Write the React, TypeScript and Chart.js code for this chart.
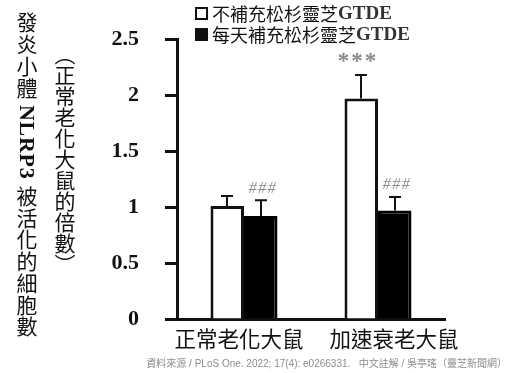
import React, { useEffect, useRef } from "react";
import { Chart, registerables } from "chart.js";
Chart.register(...registerables);

const categories = ["正常老化大鼠", "加速衰老大鼠"];
const seriesNames = ["不補充松杉靈芝", "每天補充松杉靈芝"];
const seriesSuffix = "GTDE";
const noGtde = [1.01, 1.97];
const withGtde = [0.92, 0.97];
const noGtdeErr = [0.09, 0.21];
const withGtdeErr = [0.14, 0.12];
const noGtdeMarks = ["", "***"];
const withGtdeMarks = ["###", "###"];
const yTicks = [0, 0.5, 1, 1.5, 2, 2.5];
const yTitleA = "發炎小體";
const yTitleB = "NLRP3";
const yTitleC = "被活化的細胞數";
const yTitle2 = "（正常老化大鼠的倍數）";
const sourceText = "資料來源 / PLoS One. 2022; 17(4): e0266331.\u00a0\u00a0\u00a0中文註解 / 吳亭瑤（靈芝新聞網）";

// style: horizontal nudge of each category label (px)
const xLabelNudge = [-5, 16];

const errorPlugin = {
  id: "errorBars",
  afterDatasetsDraw(chart: any) {
    const ctx = chart.ctx;
    const y = chart.scales.y;
    const vals = [noGtde, withGtde];
    const errs = [noGtdeErr, withGtdeErr];
    const marks = [noGtdeMarks, withGtdeMarks];
    chart.data.datasets.forEach((_ds: any, di: number) => {
      const meta = chart.getDatasetMeta(di);
      meta.data.forEach((bar: any, i: number) => {
        const x = Math.round(bar.x);
        const top = y.getPixelForValue(vals[di][i]);
        const et = y.getPixelForValue(vals[di][i] + errs[di][i]);
        ctx.save();
        ctx.strokeStyle = "#111";
        ctx.lineWidth = 2;
        ctx.beginPath();
        ctx.moveTo(x, top);
        ctx.lineTo(x, et);
        ctx.moveTo(x - 6, et);
        ctx.lineTo(x + 6, et);
        ctx.stroke();
        const m = marks[di][i];
        if (m) {
          ctx.fillStyle = "#8a8a8a";
          ctx.textAlign = "center";
          ctx.textBaseline = "middle";
          if (m.startsWith("*")) {
            ctx.font = "bold 23px 'Liberation Serif'";
            (ctx as any).letterSpacing = "2px";
            ctx.fillText(m, x - 3, et - 13);
          } else {
            ctx.font = "italic 16px 'Liberation Serif'";
            (ctx as any).letterSpacing = "1.5px";
            ctx.fillText(m, x + 2, et - 12);
          }
        }
        ctx.restore();
      });
    });
  },
  afterDraw(chart: any) {
    const ctx = chart.ctx;
    const xs = chart.scales.x;
    ctx.save();
    ctx.fillStyle = "#111";
    ctx.font = "21.5px 'Noto Sans CJK TC'";
    ctx.textAlign = "center";
    ctx.textBaseline = "middle";
    categories.forEach((c, i) => {
      ctx.fillText(c, xs.getPixelForValue(i) + xLabelNudge[i], xs.top + 20);
    });
    ctx.restore();
  },
};

export default function App() {
  const ref = useRef<HTMLCanvasElement | null>(null);
  useEffect(() => {
    if (!ref.current) return;
    const chart = new Chart(ref.current, {
      type: "bar",
      data: {
        labels: categories,
        datasets: [
          {
            label: seriesNames[0] + seriesSuffix,
            data: noGtde,
            backgroundColor: "#ffffff",
            borderColor: "#111",
            borderWidth: 3,
            categoryPercentage: 0.5,
            barPercentage: 1,
          },
          {
            label: seriesNames[1] + seriesSuffix,
            data: withGtde,
            backgroundColor: "#000",
            borderColor: "#000",
            borderWidth: 3,
            categoryPercentage: 0.5,
            barPercentage: 1,
          },
        ],
      },
      options: {
        responsive: false,
        animation: false,
        layout: { padding: { top: 32, right: 65, bottom: 0, left: 0 } },
        plugins: { legend: { display: false }, tooltip: { enabled: false } },
        scales: {
          x: {
            grid: { display: true, drawOnChartArea: false, drawTicks: false },
            border: { display: true, color: "#111", width: 3 },
            ticks: { display: false },
            afterFit: (s: any) => {
              s.height = 54;
            },
          },
          y: {
            min: 0,
            max: 2.5,
            afterBuildTicks: (s: any) => {
              s.ticks = yTicks.map((v) => ({ value: v }));
            },
            ticks: {
              color: "#111",
              font: { family: "'Liberation Serif'", size: 22, weight: "bold" },
              padding: 26,
              callback: (v: any) => String(v),
            },
            grid: { drawOnChartArea: false, drawTicks: true, tickLength: 12, tickWidth: 3, color: "#111" },
            border: { display: true, color: "#111", width: 3 },
            afterFit: (s: any) => {
              s.width = 177;
            },
          },
        },
      },
      plugins: [errorPlugin],
    } as any);
    return () => chart.destroy();
  }, []);

  const cjk = "'Noto Sans CJK TC', 'Noto Sans CJK SC', sans-serif";
  const serif = "'Liberation Serif', serif";
  const legendRow = (filled: boolean, name: string, top: number) => (
    <div style={{ position: "absolute", left: 195, top, height: 22, display: "flex", alignItems: "center", whiteSpace: "nowrap" }}>
      <div style={{ width: 13, height: 13, boxSizing: "border-box", border: "2.5px solid #111", background: filled ? "#111" : "#fff", marginRight: 4 }} />
      <span style={{ fontFamily: cjk, fontSize: 18, color: "#111", lineHeight: "22px" }}>{name}</span>
      <span style={{ fontFamily: serif, fontWeight: "bold", fontSize: 19, color: "#333", lineHeight: "22px" }}>{seriesSuffix}</span>
    </div>
  );

  return (
    <div style={{ position: "fixed", left: 0, top: 0, width: 510, height: 373, background: "#fff", overflow: "hidden" }}>
      <canvas ref={ref} width={510} height={373} style={{ position: "absolute", left: 0, top: 0 }} />
      {legendRow(false, seriesNames[0], 2)}
      {legendRow(true, seriesNames[1], 23)}
      <div
        style={{
          position: "absolute",
          left: 16,
          top: 12,
          writingMode: "vertical-rl",
          fontFamily: cjk,
          fontSize: 21,
          lineHeight: "22px",
          letterSpacing: 0.7,
          color: "#111",
          whiteSpace: "nowrap",
        }}
      >
        {yTitleA}
        <span style={{ fontFamily: serif, fontWeight: "bold", fontSize: 22 }}> {yTitleB} </span>
        {yTitleC}
      </div>
      <div
        style={{
          position: "absolute",
          left: 54,
          top: 44,
          writingMode: "vertical-rl",
          fontFamily: cjk,
          fontSize: 21,
          lineHeight: "22px",
          color: "#111",
          whiteSpace: "nowrap",
        }}
      >
        {yTitle2}
      </div>
      <div
        style={{
          position: "absolute",
          right: 3,
          top: 356,
          fontFamily: "'Liberation Sans', 'Noto Sans CJK TC', sans-serif",
          fontSize: 10,
          lineHeight: "16px",
          color: "#8c8c8c",
          whiteSpace: "nowrap",
        }}
      >
        {sourceText}
      </div>
    </div>
  );
}
